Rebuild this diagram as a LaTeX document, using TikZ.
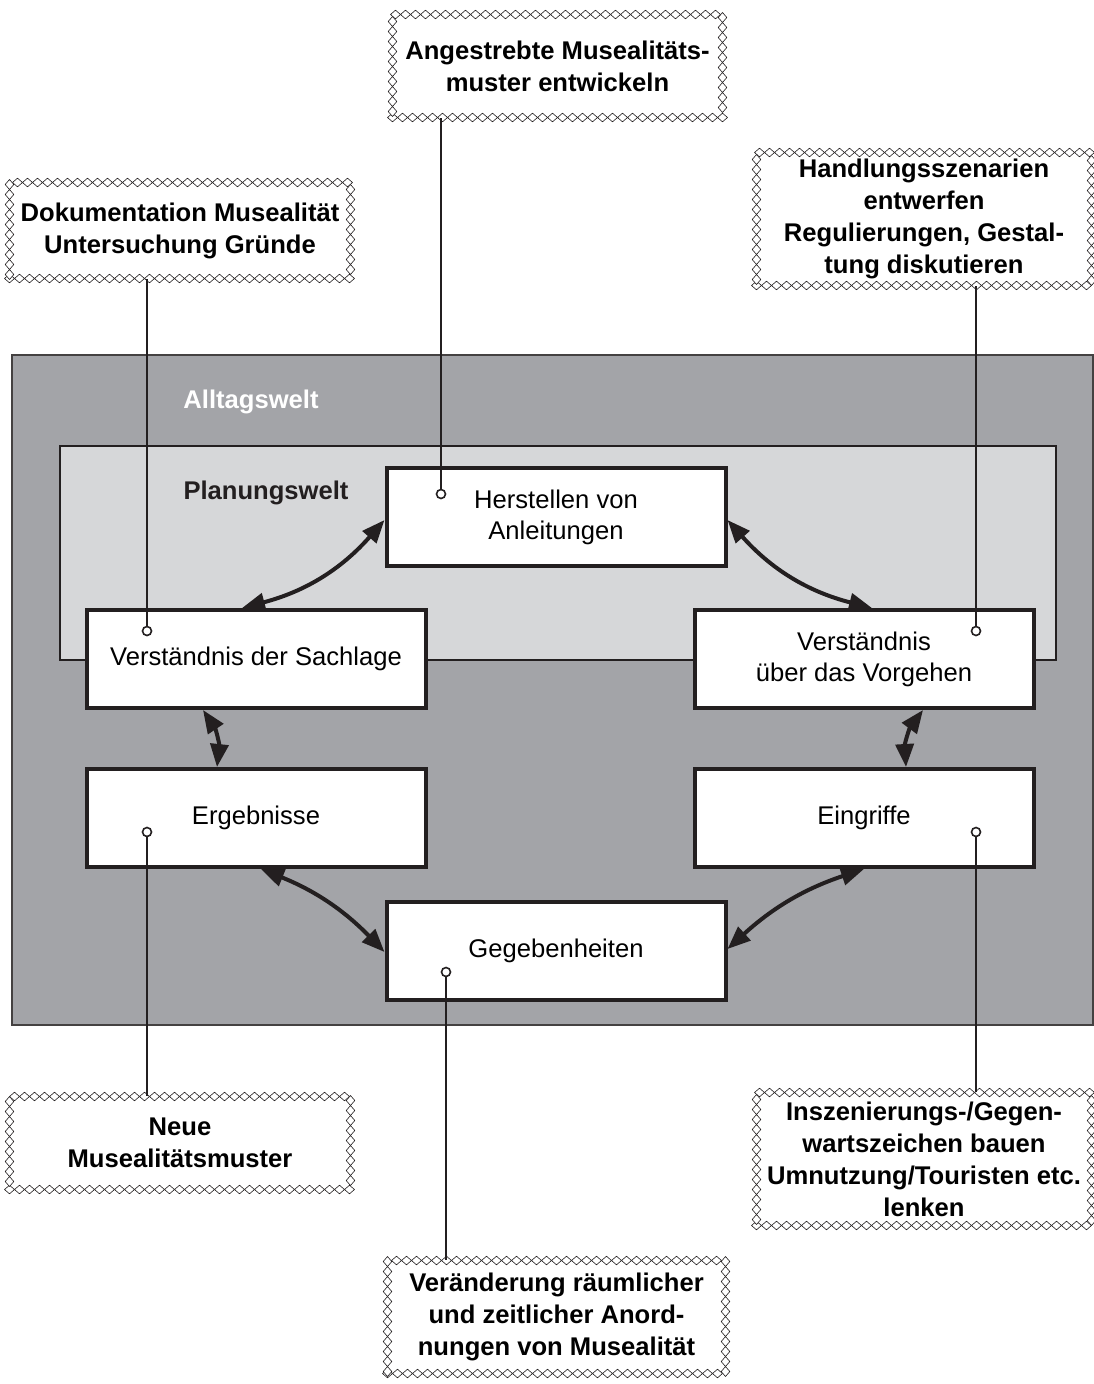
\documentclass[tikz,border=0pt]{standalone}
\usepackage{fontspec}
\setmainfont{Liberation Sans}
\usetikzlibrary{arrows.meta,calc,decorations.markings}
\definecolor{outerg}{RGB}{163,164,168}
\definecolor{innerg}{RGB}{214,215,217}
\definecolor{ink}{RGB}{35,31,32}
\begin{document}
\begin{tikzpicture}[x=1pt,y=-1pt,
  box/.style={draw=ink, line width=4pt, fill=white, minimum width=339pt, minimum height=98pt, inner sep=0pt, align=center, font=\fontsize{25.6}{31}\selectfont},
  dot/.style={circle, draw=ink, fill=white, line width=1.6pt, minimum size=9pt, inner sep=0pt},
  callout/.style={rectangle, fill=white, inner sep=0pt, align=center, font=\fontsize{25.6}{32}\selectfont\bfseries,
    postaction={decorate, decoration={markings, mark=between positions 0 and 1 step 10pt with {\draw[line width=0.6pt, fill=white, draw=ink] (-5pt,0pt) -- (0pt,4.3pt) -- (5pt,0pt) -- (0pt,-4.3pt) -- cycle;}}}},
  link/.style={draw=ink, line width=2pt},
  dbl/.style={draw=ink, line width=4pt, {Triangle[length=23pt,width=18pt]}-{Triangle[length=23pt,width=18pt]}},
  lbl/.style={font=\fontsize{25.6}{30}\selectfont\bfseries, inner sep=0pt}
]
\useasboundingbox (0,0) rectangle (1094,1384);
\fill[white] (0,0) rectangle (1094,1384);
% worlds
\draw[fill=outerg, draw=ink!85, line width=2pt] (12,355) rectangle (1093,1025);
\draw[fill=innerg, draw=ink, line width=1.6pt] (60,446) rectangle (1056,660);
\node[lbl, text=white] (alltag) at (251,402) {Alltagswelt};
\node[lbl, text=ink] (plan) at (266,493) {Planungswelt};
% boxes
\node[box] (her) at (556,517) {Herstellen von\\Anleitungen};
\node[box] (sach) at (256,659) {Verständnis der Sachlage};
\node[box] (vor) at (864,659) {Verständnis\\über das Vorgehen};
\node[box] (erg) at (256,818) {Ergebnisse};
\node[box] (ein) at (864,818) {Eingriffe};
\node[box] (geg) at (556,951) {Gegebenheiten};
% arrows
\draw[dbl] ($(sach.north)+(-14,0)$) to[bend right=17] ($(her.west)+(0,3)$);
\draw[dbl] ($(her.east)+(0,3)$) to[bend right=17] ($(vor.north)+(8,0)$);
\draw[dbl] ($(vor.south)+(59,0)$) to[bend right=20] ($(ein.north)+(42,0)$);
\draw[dbl] ($(ein.south)+(0,0)$) to[bend right=12] ($(geg.east)+(0,-2)$);
\draw[dbl] ($(geg.west)+(0,1)$) to[bend right=12] ($(erg.south)+(5,0)$);
\draw[dbl] ($(erg.north)+(-39,0)$) to[bend right=20] ($(sach.south)+(-53,0)$);
% callouts
\node[callout, minimum width=330pt, minimum height=103pt] (cTop) at (557.5,66) {Angestrebte Musealitäts-\\muster entwickeln};
\node[callout, minimum width=341pt, minimum height=96pt] (cDok) at (180,230.5) {Dokumentation Musealität\\Untersuchung Gründe};
\node[callout, minimum width=335pt, minimum height=133pt] (cHand) at (924,219) {Handlungsszenarien\\entwerfen\\Regulierungen, Gestal-\\tung diskutieren};
\node[callout, minimum width=341pt, minimum height=93pt] (cNeue) at (180,1143) {Neue\\Musealitätsmuster};
\node[callout, minimum width=335pt, minimum height=133pt] (cIns) at (924,1159) {Inszenierungs-/Gegen-\\wartszeichen bauen\\Umnutzung/Touristen etc.\\lenken};
\node[callout, minimum width=338pt, minimum height=113pt] (cVer) at (556.5,1317) {Veränderung räumlicher\\und zeitlicher Anord-\\nungen von Musealität};
% dots
\node[dot] (dHer) at (441,494) {};
\node[dot] (dSach) at (147,631) {};
\node[dot] (dVor) at (976,631) {};
\node[dot] (dErg) at (147,832) {};
\node[dot] (dEin) at (976,832) {};
\node[dot] (dGeg) at (446,972) {};
% links
\draw[link] (dHer) -- (dHer |- cTop.south);
\draw[link] (dSach) -- (dSach |- cDok.south);
\draw[link] (dVor) -- (dVor |- cHand.south);
\draw[link] (dErg) -- (dErg |- cNeue.north);
\draw[link] (dEin) -- (dEin |- cIns.north);
\draw[link] (dGeg) -- (dGeg |- cVer.north);
\end{tikzpicture}
\end{document}
